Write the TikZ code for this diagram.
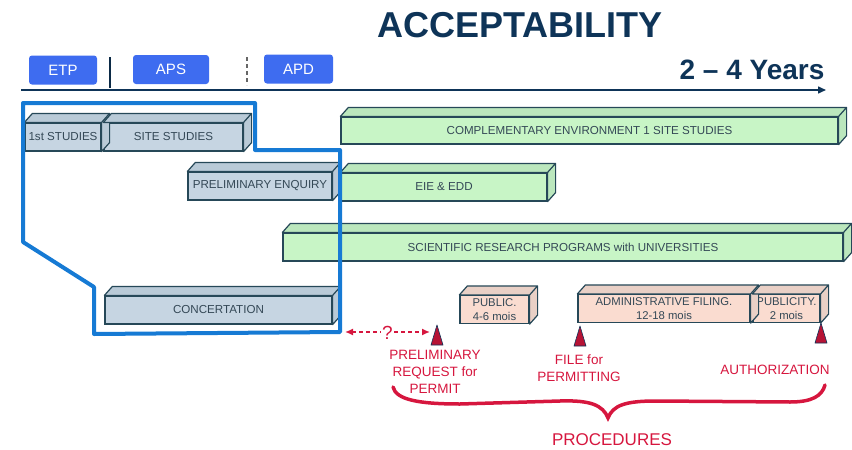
\documentclass[tikz,border=0pt]{standalone}
\usepackage{fontspec}
\setmainfont{Liberation Sans}
\usetikzlibrary{arrows.meta, positioning}

\definecolor{navy}{RGB}{14,52,88}
\definecolor{stageblue}{RGB}{62,108,240}
\definecolor{frameblue}{RGB}{22,122,212}
\definecolor{greyfill}{RGB}{198,213,226}
\definecolor{greenfill}{RGB}{200,245,198}
\definecolor{peachfill}{RGB}{250,220,208}
\definecolor{slabedge}{RGB}{38,72,88}
\definecolor{slabtext}{RGB}{52,72,86}
\definecolor{procred}{RGB}{214,22,62}

\tikzset{
  stagebox/.style={fill=stageblue, rounded corners=3pt, text=white, inner sep=0pt,
    minimum height=29pt, font=\fontsize{15}{15}\selectfont},
  slab/.style={draw=slabedge, line width=1.2pt, inner sep=0pt, minimum height=28pt,
    text=slabtext, align=center, font=\fontsize{11.6}{14}\selectfont},
  greyslab/.style={slab, fill=greyfill},
  greenslab/.style={slab, fill=greenfill},
  peachslab/.style={slab, fill=peachfill, font=\fontsize{11.3}{14}\selectfont},
  redlabel/.style={text=procred, align=center, font=\fontsize{13.5}{17}\selectfont},
  milestone/.style={fill=procred!85!black, draw=navy, line width=0.6pt, line join=round},
}

\begin{document}
\begin{tikzpicture}[x=1pt, y=-1pt]
\useasboundingbox (0,0) rectangle (852,450);

% title and time line
\node[text=navy, font=\bfseries\fontsize{36}{36}\selectfont] (title) at (520,25) {ACCEPTABILITY};
\node[text=navy, font=\bfseries\fontsize{28}{28}\selectfont] (years) at (752,70) {2 -- 4 Years};
\coordinate (t0) at (21,90);
\coordinate (t1) at (826,90);
\draw[navy, line width=1.5pt, -{Triangle[length=8pt, width=7pt]}] (t0) -- (t1);

% project stages
\node[stagebox, minimum width=68pt] (etp) at (63,70) {ETP};
\node[stagebox, minimum width=76pt] (aps) at (171,69.5) {APS};
\node[stagebox, minimum width=69pt] (apd) at (298.5,69) {APD};
\draw[navy!80!black, line width=1.2pt] (110,57) -- (110,88);
\draw[black!60, line width=1.4pt, dash pattern=on 4pt off 3pt] (247,57) -- (247,85);

% studies
\node[greyslab, minimum width=76pt] (first) at (63,137) {1st STUDIES};
\node[greyslab, minimum width=139pt] (site) at (173.5,137) {SITE STUDIES};
\node[greyslab, minimum width=144pt] (enq) at (260,186) {PRELIMINARY ENQUIRY};
\node[greyslab, minimum width=227pt] (conc) at (218.5,310) {CONCERTATION};
\node[greenslab, minimum width=497pt, minimum height=27pt] (comp) at (589.5,130.5) {COMPLEMENTARY ENVIRONMENT 1 SITE STUDIES};
\node[greenslab, minimum width=206pt] (eie) at (444,187) {EIE \& EDD};
\node[greenslab, minimum width=560pt] (sci) at (563,247) {SCIENTIFIC RESEARCH PROGRAMS with UNIVERSITIES};
\node[peachslab, minimum width=69pt] (pub) at (494.5,309.5) {PUBLIC.\\4-6 mois};
\node[peachslab, minimum width=172pt] (adm) at (664,308.5) {ADMINISTRATIVE FILING.\\12-18 mois};
\node[peachslab, minimum width=67pt] (publ) at (786.5,308.5) {PUBLICITY.\\2 mois};

% top and side faces
\foreach \n/\col in {first/greyfill, site/greyfill, enq/greyfill, conc/greyfill,
    comp/greenfill, eie/greenfill, sci/greenfill, pub/peachfill, adm/peachfill, publ/peachfill}
  \draw[slabedge, line width=1.2pt, line join=round, fill=\col!92!slabedge]
    (\n.north west) -- ++(8,-9) -- ([shift={(8,-9)}]\n.north east)
    -- ([shift={(8,-9)}]\n.south east) -- (\n.south east) -- (\n.north east) -- cycle
    (\n.north east) -- ++(8,-9);

% frame round the early phase
\draw[frameblue, line width=4pt, line join=round]
  (23,103) -- (255,103) -- (255,150) -- (340,150) -- (340,332) -- (94,334) -- (94,287) -- (23,242) -- cycle;

% procedures
\coordinate (qa) at (345,332);
\coordinate (qb) at (430,332);
\draw[procred, line width=1.5pt, dash pattern=on 4pt off 3pt,
  {Latex[length=8pt, width=7pt]}-{Latex[length=8pt, width=7pt]}] (qa) -- (qb)
  node[midway, above=-9pt, text=procred, font=\fontsize{19}{19}\selectfont, fill=white, inner sep=1pt] (ask) {?};
\foreach \x/\y in {437/325, 580/326, 821/323}
  \draw[milestone] (\x,\y) -- ++(6,20) -- ++(-12,0) -- cycle;

\node[redlabel] (prelim) at (435,372) {PRELIMINARY\\REQUEST for\\PERMIT};
\node[redlabel] (filing) at (579,368) {FILE for\\PERMITTING};
\node[redlabel] (auth) at (775,370) {AUTHORIZATION};
\node[text=procred, font=\fontsize{17}{17}\selectfont] (proc) at (612,440) {PROCEDURES};
\draw[procred, line width=3.5pt, line cap=round]
  (393,387) .. controls (396,400) and (420,404) .. (460,404) -- (560,401)
  .. controls (590,400) and (603,405) .. (608,418)
  .. controls (613,405) and (626,401) .. (656,401) -- (790,402)
  .. controls (812,402) and (822,396) .. (825,385);
\end{tikzpicture}
\end{document}
